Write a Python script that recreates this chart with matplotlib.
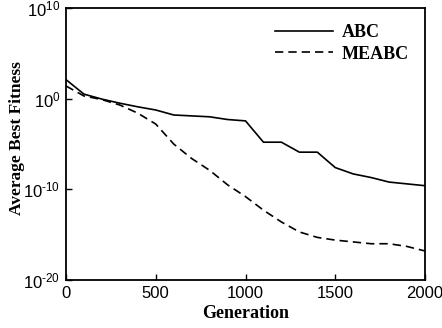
import matplotlib
matplotlib.use("Agg")
import matplotlib.pyplot as plt
import numpy as np

generations = [0, 100, 200, 300, 400, 500, 600, 700, 800, 900, 1000,
               1100, 1200, 1300, 1400, 1500, 1600, 1700, 1800, 1900, 2000]
abc_log = [2.1, 0.5, -0.05, -0.5, -0.9, -1.25, -1.8, -1.9, -2.0, -2.3, -2.45,
           -4.8, -4.8, -5.9, -5.9, -7.6, -8.3, -8.7, -9.2, -9.4, -9.6]
meabc_log = [1.4, 0.3, -0.1, -0.7, -1.6, -2.8, -5.0, -6.6, -7.9, -9.5, -10.8,
             -12.3, -13.6, -14.7, -15.3, -15.6, -15.8, -16.0, -16.0, -16.3, -16.8]
series_names = ["ABC", "MEABC"]
x_ticks = [0, 500, 1000, 1500, 2000]
y_tick_exps = [10, 0, -10, -20]

plt.rcParams['mathtext.fontset'] = 'custom'
plt.rcParams['mathtext.rm'] = 'Liberation Sans'
plt.rcParams['font.family'] = ['Liberation Sans', 'DejaVu Sans']

fig = plt.figure(figsize=(4.42, 3.28), dpi=100)
ax = fig.add_axes([66/442, 1-280/328, (425-66)/442, (280-8)/328])

abc = [10.0**v for v in abc_log]
meabc = [10.0**v for v in meabc_log]
ax.semilogy(generations, abc, color='black', lw=1.2, ls='-', label=series_names[0])
ax.semilogy(generations, meabc, color='black', lw=1.2, ls=(0, (5, 3)), label=series_names[1])

def exp_label(e):
    s = str(abs(e))
    if e < 0:
        return r'$\mathregular{10^{\text{-}%s}}$' % s
    return r'$\mathregular{10^{%s}}$' % s

ax.set_xlim(0, 2000)
ax.set_ylim(1e-20, 1e10)
ax.set_xticks(x_ticks)
ax.set_xticklabels([str(t) for t in x_ticks], fontsize=12)
ax.set_yticks([10.0**e for e in y_tick_exps])
ax.set_yticklabels([exp_label(e) for e in y_tick_exps], fontsize=12)
ax.minorticks_off()
ax.tick_params(direction='in', length=4, width=1, pad=4)
for s in ax.spines.values():
    s.set_linewidth(1.3)

ax.set_xlabel('Generation', fontsize=13, fontweight='bold', family='Liberation Serif', labelpad=3)
ax.set_ylabel('Average Best Fitness', fontsize=12.5, fontweight='bold', family='Liberation Serif')
ax.yaxis.set_label_coords(-0.115, 0.52)

leg = ax.legend(loc='upper right', frameon=False, handlelength=3.2, handletextpad=0.5,
                labelspacing=0.25, borderaxespad=0.5,
                prop={'family': 'Liberation Serif', 'weight': 'bold', 'size': 13})

fig.savefig('out.png', dpi=100)
